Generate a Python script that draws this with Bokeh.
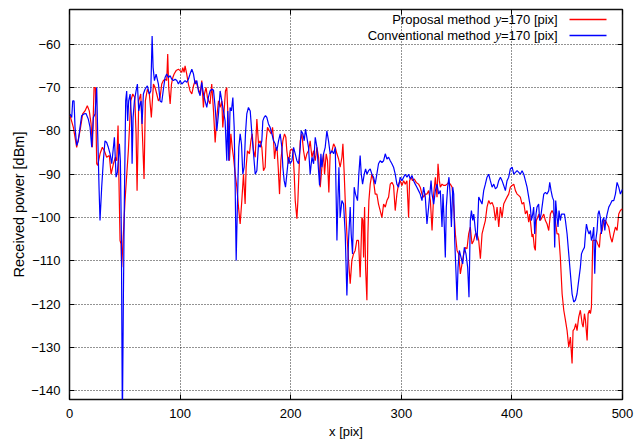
from bokeh.plotting import figure
from bokeh.models import Range1d, LinearAxis, FixedTicker, Label, Arrow, ColumnDataSource
from bokeh.embed import file_html
from bokeh.resources import INLINE

# ---------------- data ----------------
x_ticks = [0, 100, 200, 300, 400, 500]
y_ticks = [-60, -70, -80, -90, -100, -110, -120, -130, -140]
y_label = "Received power [dBm]"
x_label = "x [pix]"
legend_names = ["Proposal method", "Conventional method"]
legend_var = "y"
legend_suffix = "=170 [pix]"
series_colors = ["#ff0000", "#0000ff"]

red_x = [
    0.5, 3.5, 6.5, 9.5, 11.9, 14.0, 16.1, 17.9, 19.5, 20.7, 22.2, 23.4, 24.6, 25.5, 27.6, 29.7, 31.5, 33.6, 36.0, 37.6,
    39.7, 41.5, 42.7, 43.9, 44.5, 45.7, 46.6, 47.2, 50.2, 53.2, 55.4, 57.2, 59.0, 60.2, 61.1, 62.6, 64.4, 65.9, 67.4, 68.6,
    70.4, 72.2, 74.0,
    75.9, 77.4, 78.9, 80.4, 81.9, 83.4, 84.9, 86.4, 87.9, 88.8, 89.7, 91.0, 92.2, 93.4, 94.6, 96.4, 98.5, 100.0, 101.5, 102.4,
    103.6, 104.5, 106.0, 107.5, 109.0, 110.6, 112.1, 113.6, 115.1, 116.6, 118.1, 119.6, 121.1, 122.0, 123.5, 124.7, 125.9, 127.1, 128.6, 130.2,
    131.7, 133.2, 134.7, 136.2, 137.7, 138.6, 139.8, 141.0, 142.2, 143.7, 144.6, 145.9, 147.1, 148.3, 149.8, 151.3, 152.8, 154.3, 155.8, 157.3,
    158.8, 159.7, 160.9, 162.7, 164.0, 165.2, 166.4, 167.9, 169.4, 170.9, 172.4, 173.9, 175.4, 176.9, 177.8, 179.0, 180.8, 182.4, 183.6, 184.5,
    185.4, 186.6, 187.8, 188.7, 189.9, 191.1, 192.9, 194.4, 195.6, 196.5, 198.0, 199.5, 201.1, 202.0, 203.2, 204.1, 205.6, 206.5, 207.4, 208.6,
    210.1, 211.6, 213.1, 214.6, 216.1, 217.6, 219.2, 220.7, 222.2, 223.7, 225.2, 226.7, 228.2, 229.7, 230.6, 232.1, 233.3, 234.5, 235.7, 237.3,
    238.8, 240.3, 241.8, 243.3,
    244.7, 246.3, 247.2, 248.4, 249.3, 250.8, 252.3, 253.8, 255.3, 256.8, 258.3, 259.8, 261.3, 262.8, 264.4, 265.3, 265.9, 266.8, 267.7, 268.9,
    269.8, 270.7, 271.9, 273.4, 274.9, 276.4, 277.9, 279.4, 280.9, 282.5, 284.0, 285.5, 287.0, 288.5, 290.0, 291.5, 293.0, 294.5, 296.0, 297.5,
    299.0, 300.6, 302.1, 303.6, 305.1, 306.6, 307.5, 308.7, 310.2, 311.7, 313.5, 315.6, 317.1, 318.7, 320.2, 321.7, 323.2, 324.7,
    326.3, 327.8, 329.3, 330.8, 332.3, 333.2, 334.4, 335.3, 336.8, 338.3, 339.8, 341.3, 342.8, 344.3, 345.9, 347.4, 348.9, 350.4, 351.9, 353.4,
    354.9, 356.4, 357.9, 359.4, 360.9, 362.4, 363.9, 365.5, 367.0, 368.5, 370.0, 371.5, 373.0, 374.5, 376.0, 377.5, 379.0, 380.5, 382.1, 383.6,
    385.1, 386.6, 388.1, 389.6, 391.1, 392.6, 394.1, 395.6, 397.1, 398.6, 400.2, 401.7, 403.2, 404.7,
    406.1, 407.6, 409.2, 410.7, 412.2, 413.7, 415.2, 416.1, 417.3, 418.2, 419.1, 420.3, 421.2, 422.1, 423.3, 424.5, 425.7, 427.3, 428.8, 430.3,
    431.8, 433.3, 434.8, 436.3, 437.8, 439.3, 440.8, 442.3, 443.8, 445.4, 446.9, 448.4, 449.9, 451.4, 452.9, 454.4, 455.3, 456.5, 457.7, 458.9,
    460.4, 461.9, 463.5, 464.4, 465.6, 466.5, 468.0, 468.9, 470.1, 471.0, 471.9, 473.1, 474.6, 476.4, 477.6, 479.1, 480.0, 481.6, 483.1, 484.6,
    486.1, 487.6, 489.1, 490.6, 492.1, 493.6, 495.1, 496.6, 498.1, 500.0,
]
red_y = [
    -76.5, -79.2, -83.8, -80.0, -76.1, -75.4, -74.2, -75.4, -78.4, -83.8, -70.0, -70.0, -87.6, -88.0, -85.3, -83.8, -84.6, -86.1, -85.7, -90.0,
    -87.6, -86.1, -86.9, -78.8, -88.4, -105.3, -106.1, -111.5, -96.1, -84.6, -73.1, -71.5, -72.3, -80.7, -93.8, -73.1, -71.5, -80.7, -91.1, -73.1,
    -70.4, -71.5, -76.9,
    -69.2, -70.0, -71.5, -73.1, -72.3, -69.2, -68.4, -68.1, -68.4, -62.3, -70.0, -73.8, -69.2, -67.7, -66.9, -66.1, -65.8, -66.1, -66.5, -65.4,
    -66.5, -65.0, -66.9, -69.2, -70.8, -71.5, -69.6, -68.4, -69.2, -70.4, -71.5, -68.4, -74.6, -71.5, -70.0, -72.3, -73.1, -73.8, -69.2, -75.4,
    -82.7, -76.9, -73.1, -74.6, -73.1, -79.2, -75.4, -70.8, -70.0, -79.2, -86.9, -80.7, -83.8, -86.1, -90.0, -93.0, -97.6, -101.5, -96.1, -90.0,
    -96.9, -88.4, -84.6, -85.3, -82.3, -80.7, -84.6, -86.1, -77.3, -83.0, -82.3, -83.8, -89.2, -88.4, -82.3, -79.2, -80.0, -80.7, -79.2, -82.3,
    -86.5, -83.8, -84.6, -88.4, -94.6, -86.9, -82.3, -80.7, -81.5, -84.6, -87.6, -84.6, -84.2, -84.6, -90.0, -96.1, -100.3, -96.1, -90.0, -82.3,
    -80.7, -84.6, -86.9, -85.3, -84.6, -82.3, -86.1, -84.6, -86.9, -83.8, -86.1, -93.0, -88.4, -85.3, -90.0, -85.3, -86.9, -94.2, -85.3, -84.6,
    -83.0, -83.8, -85.3, -86.5,
    -88.4, -86.1, -83.0, -90.0, -96.1, -103.8, -109.9, -115.3, -109.9, -108.4, -107.6, -105.3, -105.3, -113.8, -100.0, -100.7, -109.2, -97.6, -111.5, -119.1,
    -103.8, -96.1, -92.3, -90.0, -91.5, -94.6, -94.6, -96.9, -98.4, -100.0, -96.9, -97.6, -96.1, -95.3, -92.3, -91.9, -92.6, -98.4, -94.6, -92.3,
    -91.5, -92.6, -91.5, -92.3, -91.5, -100.0, -91.5, -90.7, -91.5, -91.1, -91.9, -92.3, -93.0, -94.6, -95.3, -94.6, -94.6, -93.8,
    -96.1, -103.0, -94.6, -90.7, -95.3, -87.6, -91.5, -93.0, -92.3, -92.6, -92.6, -92.3, -91.9, -92.3, -93.0, -97.6, -103.8, -107.6, -108.4, -113.0,
    -110.7, -108.4, -106.9, -107.2, -103.8, -102.2, -106.1, -105.3, -103.8, -103.8, -105.3, -109.5, -103.8, -102.2, -100.7, -97.6, -96.1, -96.9, -96.5, -97.6,
    -100.7, -97.6, -102.2, -97.6, -100.0, -96.9, -96.1, -95.3, -94.6, -93.0, -92.6, -92.3, -93.8, -94.6,
    -94.9, -95.3, -96.9, -96.5, -99.2, -98.4, -101.1, -99.2, -102.2, -104.5, -103.8, -106.9, -107.6, -100.7, -100.0, -99.2, -100.7, -100.0, -99.2, -100.7,
    -101.5, -103.0, -99.2, -98.4, -99.2, -100.7, -103.8, -103.8, -109.2, -117.6, -121.4, -123.7, -126.1, -129.9, -127.6, -133.7, -126.1, -125.7, -124.5, -126.1,
    -123.0, -121.4, -124.5, -125.3, -122.2, -123.7, -128.4, -122.2, -121.4, -122.2, -120.7, -105.3, -105.3, -105.3, -106.1, -106.9, -103.8, -103.0, -100.7, -100.7,
    -101.5, -102.2, -104.5, -105.7, -103.8, -102.2, -103.0, -99.2, -98.4, -98.0,
]

blue_x = [
    0.5, 2.0, 2.9, 4.1, 5.0, 6.5, 8.0, 9.5, 11.0, 13.1, 14.9, 17.0, 18.6, 20.1, 21.6, 23.1, 24.6, 25.5, 26.7, 27.6,
    29.1, 30.6, 32.1, 33.6, 35.1, 36.7, 38.2, 39.7, 40.6, 41.5, 42.1, 43.3, 45.1, 46.0, 46.9, 47.8, 48.7, 49.6, 50.8, 51.7,
    52.6, 53.5, 54.8, 56.0, 56.6, 57.5, 58.7, 60.2, 61.4, 62.6, 63.8, 64.7, 65.6, 66.8, 68.3, 70.4, 72.2, 73.5, 74.7, 75.6,
    76.8, 78.3,
    80.4, 81.9, 83.4, 84.9, 86.4, 87.9, 89.4, 91.0, 92.5, 94.0, 95.5, 97.0, 98.5, 100.0, 101.5, 103.0, 104.5, 106.0, 107.5, 109.0,
    110.6, 112.1, 113.6, 115.1, 116.6, 118.1, 119.6, 121.1, 122.6, 124.1, 125.6, 127.1, 128.6, 130.2, 131.7, 133.2, 134.7, 136.2, 137.7, 139.2,
    140.7, 142.2, 143.1, 144.0, 145.2, 146.4, 147.7, 148.9, 149.8, 150.7, 151.9, 153.1, 154.3, 155.5, 156.7, 157.9, 159.1, 160.3, 161.8,
    163.4, 164.9, 166.4, 167.9, 169.4, 170.9, 172.4, 173.9, 174.8, 176.0, 177.2, 178.4, 179.9, 181.4, 183.0, 184.5, 186.0, 187.5, 189.0, 190.5,
    192.0, 192.9, 194.1, 195.3, 196.5, 198.0, 199.5, 201.1, 202.6, 204.1, 205.6, 207.1, 208.6, 209.5, 211.0, 212.2, 213.4, 214.6, 216.1, 217.6,
    219.2, 220.7, 222.2, 223.7, 225.2, 226.1, 227.3, 228.2, 229.7, 231.2, 232.7, 234.2, 235.7, 237.3, 238.8, 240.3, 241.8, 242.7, 243.6,
    244.7, 246.3, 247.8, 249.3, 250.8, 252.3, 253.8, 254.7, 255.9, 257.4, 258.6, 260.4, 261.6, 262.8, 263.8, 265.0, 266.5, 267.7, 268.9, 270.4,
    271.9, 273.4, 274.9, 276.4, 277.9, 279.4, 280.9, 282.5, 284.0, 285.5, 287.0, 288.5, 290.0, 291.5, 293.0, 294.5, 296.0, 297.5, 299.0, 300.6,
    302.1, 303.6, 305.1, 306.6, 308.1, 309.6, 311.1, 312.6, 314.1, 315.6, 317.1, 318.7, 320.2, 321.7, 323.2, 324.7,
    326.9, 327.8, 329.3, 330.8, 332.3, 333.8, 335.3, 336.8, 337.7, 338.9, 339.8, 340.7, 341.9, 343.1, 344.3, 345.3, 346.5, 347.4, 348.3, 349.5,
    350.4, 351.3, 352.5, 354.0, 355.5, 357.0, 358.5, 360.0, 361.2, 362.4, 363.4, 364.6, 365.5, 367.0, 368.5, 370.0, 371.5, 373.0, 374.5, 376.0,
    377.5, 379.0, 380.5, 382.1, 383.6, 385.1, 386.6, 388.1, 389.6, 391.1, 392.6, 394.1, 395.6, 397.1, 398.6, 400.2, 401.7, 403.2, 404.7, 406.2,
    407.6, 409.2, 410.7, 412.2, 413.7, 415.2, 416.7, 417.6, 418.8, 419.7, 420.6, 421.8, 422.7, 424.2, 425.1, 426.4, 427.6, 428.8, 430.3, 431.8,
    433.3, 434.2, 435.4, 436.6, 437.8, 438.7, 439.6, 440.8, 441.7, 442.6, 443.8, 444.8, 446.3, 447.5, 448.4, 449.9, 451.4, 452.9, 454.4, 455.9,
    457.4, 458.9, 460.4, 461.9, 462.9, 464.1, 465.6, 466.5, 467.4, 468.6, 469.8, 471.0, 471.9, 472.8, 474.0, 474.9, 475.8, 477.0, 477.9, 478.8,
    480.0, 480.9, 481.9, 483.1, 484.0, 484.9, 486.1, 487.6, 489.1, 490.6, 492.1, 493.6, 495.1, 496.6, 498.1, 500.0,
]
blue_y = [
    -76.1, -76.9, -73.1, -73.1, -79.2, -83.4, -82.3, -79.2, -76.5, -76.1, -76.0, -77.3, -79.2, -83.8, -76.9, -76.1, -70.0, -80.7, -93.0, -100.7,
    -93.0, -86.9, -82.3, -82.7, -83.8, -85.3, -87.6, -83.8, -81.5, -86.9, -90.7, -89.6, -83.0, -86.9, -103.8, -148.0, -119.1, -96.1, -73.1, -70.8,
    -77.7, -73.1, -71.5, -76.9, -87.6, -76.9, -73.1, -70.8, -69.2, -75.4, -73.8, -73.1, -78.4, -71.5, -70.4, -69.6, -71.5, -70.8, -58.1, -65.4,
    -68.4, -66.9,
    -69.2, -73.1, -73.4, -70.4, -67.7, -66.9, -67.7, -67.3, -68.1, -68.4, -68.1, -68.4, -69.2, -68.4, -69.2, -68.8, -68.4, -68.8, -68.1, -66.9,
    -65.8, -66.9, -69.2, -68.4, -70.8, -71.9, -68.8, -71.5, -73.1, -74.6, -72.3, -70.8, -70.4, -70.6, -74.6, -80.0, -76.1, -70.8, -73.1, -75.4,
    -77.7, -86.9, -75.4, -86.9, -74.6, -75.4, -72.3, -79.2, -93.0, -109.9, -96.1, -83.8, -80.7, -83.0, -90.0, -88.4, -80.7, -76.1, -74.6,
    -75.4, -80.7, -85.3, -90.0, -89.2, -83.0, -83.8, -82.3, -77.7, -76.9, -76.5, -76.9, -78.4, -79.2, -80.7, -82.3, -83.0, -84.6, -82.3, -80.7,
    -83.8, -88.4, -91.5, -93.0, -90.0, -86.1, -87.6, -86.9, -83.8, -85.3, -86.9, -87.6, -83.8, -80.0, -80.7, -82.3, -79.6, -81.5, -83.8, -90.0,
    -86.1, -87.6, -81.5, -83.8, -89.2, -92.6, -85.3, -88.4, -85.3, -83.8, -80.0, -82.3, -85.3, -84.6, -85.3, -83.8, -105.3, -96.1, -88.4,
    -100.0, -96.1, -96.9, -103.8, -118.0, -105.3, -97.6, -103.8, -108.4, -93.0, -94.6, -96.1, -90.0, -85.7, -90.0, -92.3, -90.0, -88.8, -90.0, -89.2,
    -88.8, -90.0, -90.7, -92.3, -90.0, -87.6, -86.9, -87.3, -86.9, -85.3, -86.5, -86.1, -86.9, -87.6, -88.4, -90.0, -92.3, -93.0, -90.7, -91.5,
    -90.7, -90.0, -90.7, -90.0, -91.1, -90.3, -91.5, -92.3, -93.0, -93.8, -94.6, -96.1, -93.0, -95.3, -101.5, -97.6,
    -91.5, -94.6, -96.9, -93.8, -92.3, -94.6, -93.8, -102.2, -94.6, -102.2, -109.2, -97.6, -93.0, -90.7, -95.3, -102.2, -93.0, -94.6, -105.3, -113.0,
    -119.1, -111.5, -107.6, -109.2, -110.7, -106.9, -108.4, -111.5, -118.4, -100.7, -98.4, -100.7, -99.2, -103.0, -105.3, -95.3, -96.1, -96.9, -93.8, -92.3,
    -90.7, -90.0, -91.5, -93.0, -92.3, -93.4, -93.0, -91.5, -90.7, -91.5, -92.6, -93.8, -91.5, -90.7, -88.8, -88.4, -90.0, -89.6, -89.2, -89.6,
    -90.0, -89.2, -90.0, -91.5, -93.0, -95.3, -97.6, -100.7, -99.2, -97.6, -103.8, -99.2, -97.6, -96.9, -100.7, -99.2, -96.9, -94.6, -94.2, -94.6,
    -93.8, -91.9, -93.8, -95.3, -96.1, -106.9, -96.1, -100.0, -102.2, -98.4, -100.7, -99.2, -99.2, -99.2, -100.7, -103.8, -108.4, -113.0, -117.6, -119.5,
    -119.1, -117.6, -114.5, -111.5, -108.4, -107.6, -106.9, -103.8, -101.5, -103.0, -103.8, -103.0, -105.3, -104.5, -102.2, -113.0, -105.3, -103.0, -99.2, -98.4,
    -100.0, -103.8, -100.7, -100.0, -103.0, -100.7, -99.2, -97.6, -96.9, -96.1, -96.1, -94.6, -91.9, -93.0, -94.6, -93.5,
]

# ---------------- figure ----------------
FONT = "Liberation Sans"
SERIF = "Liberation Serif"
FS = "13px"

p = figure(width=635, height=441, output_backend="svg", toolbar_location=None,
           x_range=Range1d(0, 500), y_range=Range1d(-142, -52),
           min_border_left=69, min_border_right=13, min_border_top=9, min_border_bottom=42)
p.background_fill_color = "white"
p.border_fill_color = "white"
p.outline_line_color = "#111111"
p.outline_line_width = 1.5

src_red = ColumnDataSource(dict(x=red_x, y=red_y))
src_blue = ColumnDataSource(dict(x=blue_x, y=blue_y))
p.line("x", "y", source=src_red, line_color=series_colors[0], line_width=1.2)
p.line("x", "y", source=src_blue, line_color=series_colors[1], line_width=1.2)

for ax, ticks in ((p.xaxis[0], x_ticks), (p.yaxis[0], y_ticks)):
    ax.ticker = FixedTicker(ticks=ticks)
    ax.axis_line_color = None
    ax.major_tick_in = 5
    ax.major_tick_out = 0
    ax.major_tick_line_color = "black"
    ax.minor_tick_line_color = None
    ax.major_label_text_font = FONT
    ax.major_label_text_font_size = FS
    ax.major_label_text_color = "black"
    ax.axis_label_text_font = FONT
    ax.axis_label_text_font_style = "normal"
    ax.axis_label_text_color = "black"

p.xaxis[0].major_label_standoff = 9
p.xaxis[0].axis_label = x_label
p.xaxis[0].axis_label_text_font_size = FS
p.xaxis[0].axis_label_standoff = 3

p.yaxis[0].major_label_standoff = 9
p.yaxis[0].axis_label = y_label
p.yaxis[0].axis_label_text_font_size = "14.5px"
p.yaxis[0].axis_label_standoff = 1

# mirrored ticks on top / right
for loc, ticks in (("above", x_ticks), ("right", y_ticks)):
    ax = LinearAxis(ticker=FixedTicker(ticks=ticks), axis_line_color=None,
                    major_tick_in=5, major_tick_out=0, major_tick_line_color="black",
                    minor_tick_line_color=None, major_label_standoff=0,
                    major_label_overrides={t: "" for t in ticks})
    p.add_layout(ax, loc)

p.xgrid.ticker = FixedTicker(ticks=x_ticks)
p.ygrid.ticker = FixedTicker(ticks=y_ticks)
for g in (p.xgrid, p.ygrid):
    g.grid_line_color = "black"
    g.grid_line_alpha = 0.85
    g.grid_line_dash = "1 2"
    g.grid_line_width = 1

# legend (gnuplot style: right-aligned text, then the line sample)
row_y = [380, 364]
for name, ry, col in zip(legend_names, row_y, series_colors):
    p.add_layout(Label(x=421, y=ry, x_units="screen", y_units="screen", text=name,
                       text_font=FONT, text_font_size=FS, text_align="right",
                       text_baseline="middle", text_color="black"))
    p.add_layout(Label(x=425.5, y=ry, x_units="screen", y_units="screen", text=legend_var,
                       text_font=SERIF, text_font_style="italic", text_font_size="14px",
                       text_align="left", text_baseline="middle", text_color="black"))
    p.add_layout(Label(x=431.5, y=ry, x_units="screen", y_units="screen", text=legend_suffix,
                       text_font=FONT, text_font_size=FS, text_align="left",
                       text_baseline="middle", text_color="black"))
    p.add_layout(Arrow(x_start=500, x_end=537, y_start=ry, y_end=ry,
                       start_units="screen", end_units="screen", start=None, end=None,
                       line_color=col, line_width=1.6))

open("out.html", "w").write(file_html(p, INLINE))
